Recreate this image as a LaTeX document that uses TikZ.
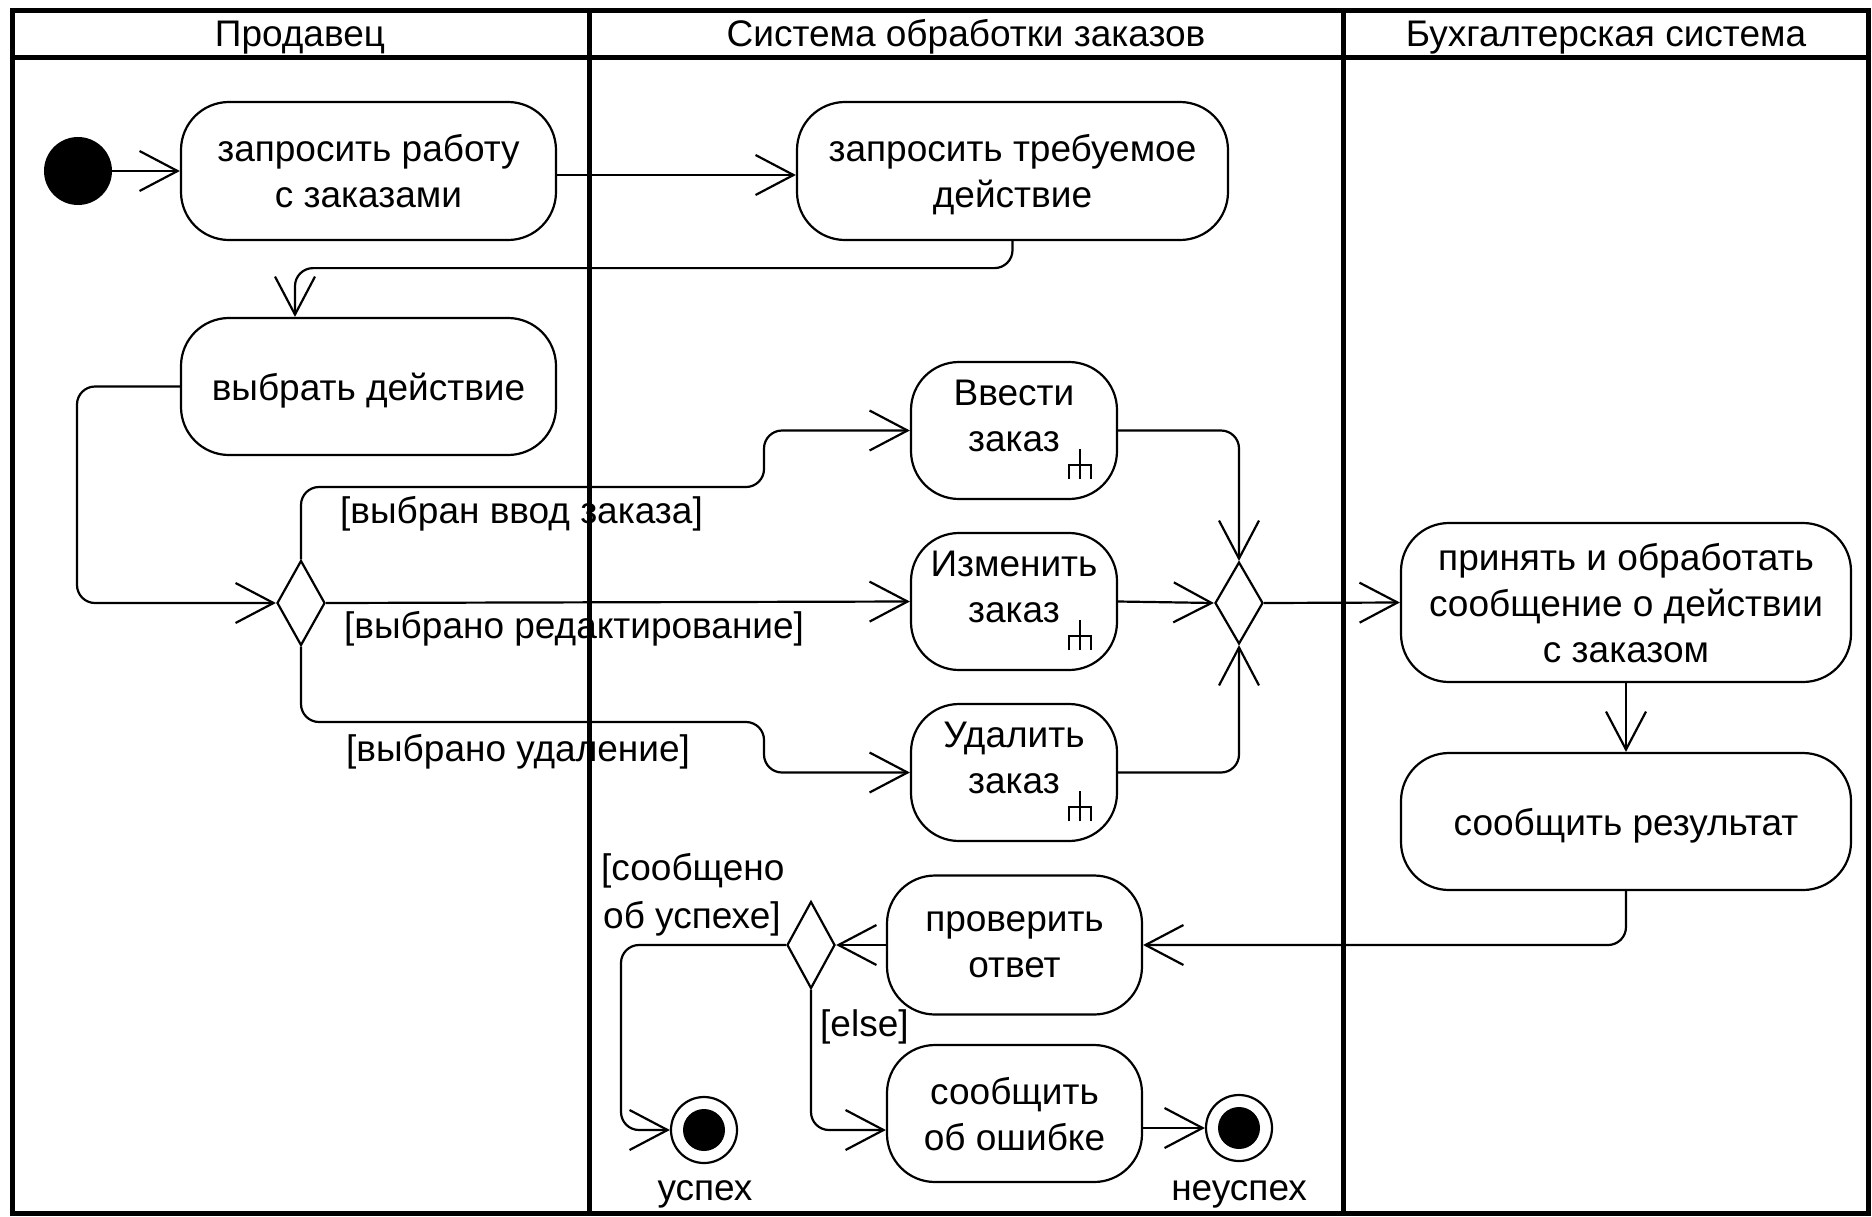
\documentclass[tikz,border=0pt]{standalone}
\usepackage{fontspec}
\setmainfont{Liberation Sans}
\usetikzlibrary{arrows.meta,shapes.geometric}
\begin{document}
\begin{tikzpicture}[x=1pt,y=-1pt,
  font=\fontsize{37}{46}\selectfont,
  frameline/.style={line width=5pt},
  thinline/.style={line width=2.2pt},
  act/.style={draw, line width=2.2pt, rounded corners=48pt, inner sep=0pt, align=center, text depth=0pt},
  branch/.style={draw, diamond, line width=2.2pt, inner sep=0pt, minimum width=48pt},
  startnode/.style={circle, fill=black, inner sep=0pt, minimum size=68pt},
  endnode/.style={circle, draw, line width=2.2pt, inner sep=0pt, minimum size=66pt},
  flow/.style={line width=2.2pt, rounded corners=18pt, -{Straight Barb[length=38pt,width=40pt]}},
  guard/.style={inner sep=0pt},
  lanehead/.style={inner sep=0pt, anchor=base},
  rake/.pic={\draw[thinline] (0,0) -- (0,-30) (-11,0) -- (-11,-14) -- (11,-14) -- (11,0);}
]
\fill[white] (0,0) rectangle (1872,1216);
\useasboundingbox (0,0) rectangle (1872,1216);

% lane headers
\node[lanehead] (h1) at (300,46) {Продавец};
\node[lanehead] (h2) at (966,46) {Система обработки заказов};
\node[lanehead] (h3) at (1606,46) {Бухгалтерская система};

% nodes
\node[startnode] (init) at (78,171) {};
\node[act, minimum width=375pt, minimum height=138pt] (req) at (368.5,171) {запросить работу\\с заказами};
\node[act, minimum width=431pt, minimum height=138pt] (ask) at (1012.5,171) {запросить требуемое\\действие};
\node[act, minimum width=375pt, minimum height=137pt] (choose) at (368.5,386.5) {выбрать действие};
\node[branch, minimum height=85pt] (dec1) at (301,603) {};
\node[act, minimum width=206pt, minimum height=137pt,
      label={[align=center, yshift=15pt]center:Ввести\\заказ}] (enter) at (1014,430.5) {};
\node[act, minimum width=206pt, minimum height=137pt,
      label={[align=center, yshift=15pt]center:Изменить\\заказ}] (edit) at (1014,601.5) {};
\node[act, minimum width=206pt, minimum height=137pt,
      label={[align=center, yshift=15pt]center:Удалить\\заказ}] (del) at (1014,772.5) {};
\node[branch, minimum height=82pt] (join) at (1239,603) {};
\node[act, minimum width=450pt, minimum height=159pt] (accept) at (1626,602.5) {принять и обработать\\сообщение о действии\\с заказом};
\node[act, minimum width=450pt, minimum height=137pt] (report) at (1626,821.5) {сообщить результат};
\node[act, minimum width=255pt, minimum height=139pt] (check) at (1014.5,945) {проверить\\ответ};
\node[branch, minimum height=87pt] (dec2) at (811,945) {};
\node[act, minimum width=255pt, minimum height=137pt] (err) at (1014.5,1113.5) {сообщить\\об ошибке};
\node[endnode] (fin1) at (704,1130) {};
\fill (fin1.center) circle[radius=21pt];
\node[endnode] (fin2) at (1239,1128) {};
\fill (fin2.center) circle[radius=21pt];

% rakes
\pic at ([xshift=-38pt,yshift=21pt]enter.south east) {rake};
\pic at ([xshift=-38pt,yshift=21pt]edit.south east) {rake};
\pic at ([xshift=-38pt,yshift=21pt]del.south east) {rake};

% guards
\node[guard, anchor=west] (g1) at (340,514) {[выбран ввод заказа]};
\node[guard, anchor=west] (g2) at (344,629) {[выбрано редактирование]};
\node[guard, anchor=west] (g3) at (346,752) {[выбрано удаление]};
\node[guard, anchor=base west] (g4) at (601,880) {[сообщено};
\node[guard, anchor=base west] (g5) at (603,928) {об успехе]};
\node[guard, anchor=west] (g6) at (820,1027) {[else]};
\node[guard, anchor=base] (t1) at (705,1200) {успех};
\node[guard, anchor=base] (t2) at (1239,1200) {неуспех};

% connectors
\coordinate (cin) at ([xshift=-73.5pt]choose.north);
\draw[flow] (init) -- (req);
\draw[flow] ([yshift=-4pt]req.east) -- ([yshift=-4pt]ask.west);
\draw[flow] (ask.south) -- ++(0,27) -| (cin);
\draw[flow] (choose.west) -| (77,603) -- (dec1.west);
\draw[flow] (dec1.north) |- (764,487) |- (enter.west);
\draw[flow] (dec1.east) -- (edit.west);
\draw[flow] (dec1.south) |- (764,722) |- (del.west);
\draw[flow] (enter.east) -| (join.north);
\draw[flow] (edit.east) -- (join.west);
\draw[flow] (del.east) -| (join.south);
\draw[flow] (join.east) -- (accept.west);
\draw[flow] (accept.south) -- (report.north);
\draw[flow] (report.south) |- (check.east);
\draw[flow] (check.west) -- (dec2.east);
\draw[flow] (dec2.west) -| (621,1130) -- (fin1.west);
\draw[flow] (dec2.south) |- (err.west |- fin1.center);
\draw[flow] (err.east |- fin2.center) -- (fin2.west);

% frame and lanes
\draw[frameline] (12,10) rectangle (1868,1213);
\draw[frameline] (12,57) -- (1868,57);
\draw[frameline] (589,10) -- (589,1213);
\draw[frameline] (1343,10) -- (1343,1213);
\end{tikzpicture}
\end{document}
